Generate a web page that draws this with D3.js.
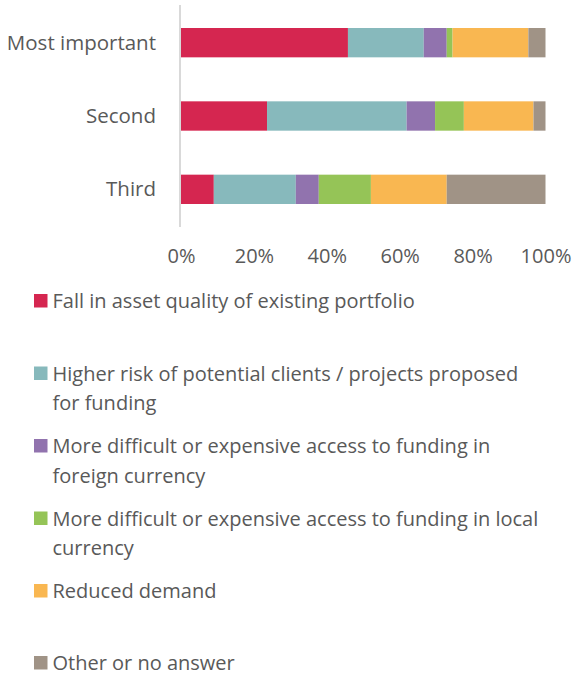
<!DOCTYPE html>
<html><head><meta charset="utf-8">
<script src="https://cdn.jsdelivr.net/npm/d3@7"></script>
<style>body{margin:0;background:#fff}svg{display:block}text{font-family:"Open Sans", Lato, sans-serif;fill:#595959}</style>
</head><body>
<svg id="c" width="576" height="675"></svg>
<script>
const categories = ["Most important", "Second", "Third"];
const seriesNames = [
  "Fall in asset quality of existing portfolio",
  "Higher risk of potential clients / projects proposed for funding",
  "More difficult or expensive access to funding in foreign currency",
  "More difficult or expensive access to funding in local currency",
  "Reduced demand",
  "Other or no answer"
];
// number of words on the first legend line (as wrapped in the original)
const firstLineWords = [7, 8, 8, 9, 2, 4];
const fallAsset = [45.8, 23.6, 9.0];
const higherRisk = [20.8, 38.3, 22.5];
const foreignFunding = [6.3, 7.8, 6.3];
const localFunding = [1.6, 7.9, 14.3];
const reducedDemand = [20.8, 19.1, 20.8];
const otherNoAnswer = [4.7, 3.3, 27.1];
const tickValues = [0, 20, 40, 60, 80, 100];
const colors = ["#D52650", "#87B9BC", "#9173AE", "#95C457", "#F9B751", "#A09386"];

const seriesValues = [fallAsset, higherRisk, foreignFunding, localFunding, reducedDemand, otherNoAnswer];
const rows = categories.map((c, i) => {
  const r = {cat: c};
  seriesNames.forEach((s, j) => r[s] = seriesValues[j][i]);
  return r;
});
const stacked = d3.stack().keys(seriesNames)(rows);

const svg = d3.select("#c");
const x = d3.scaleLinear().domain([0, 100]).range([181, 545.5]);
const y = d3.scaleBand().domain(categories).range([6, 226]).paddingInner(0.6).paddingOuter(0.3);
const color = d3.scaleOrdinal().domain(seriesNames).range(colors);
const FS = 20;

svg.append("g").selectAll("g").data(stacked).join("g")
  .attr("fill", d => color(d.key))
  .selectAll("rect").data(d => d).join("rect")
  .attr("x", d => x(d[0]))
  .attr("width", d => x(d[1]) - x(d[0]))
  .attr("y", d => y(d.data.cat))
  .attr("height", y.bandwidth());

// vertical axis line
svg.append("line").attr("x1", 180).attr("x2", 180).attr("y1", 5).attr("y2", 227)
  .attr("stroke", "#d9d9d9").attr("stroke-width", 2);

// category labels
svg.append("g").selectAll("text").data(categories).join("text")
  .attr("x", 156).attr("y", d => y(d) + y.bandwidth() / 2 + 7)
  .attr("text-anchor", "end").attr("font-size", 20.5).text(d => d);

// x tick labels
const xAxis = svg.append("g").attr("transform", "translate(0,243)")
  .call(d3.axisBottom(x).tickValues(tickValues).tickFormat(d => d + "%").tickSize(0).tickPadding(0));
xAxis.select(".domain").remove();
xAxis.selectAll("text").attr("font-size", FS).attr("font-family", "Open Sans").attr("fill", "#595959").attr("dy", 0).attr("y", 20);

// legend
const legendBase = [308, 380.5, 453, 525.5, 598, 670];
const lg = svg.append("g");
seriesNames.forEach((name, i) => {
  const g = lg.append("g");
  g.append("rect").attr("x", 34).attr("y", legendBase[i] - 14).attr("width", 13.5).attr("height", 13.5).attr("fill", colors[i]);
  const t = g.append("text").attr("x", 52.5).attr("y", legendBase[i]).attr("font-size", FS);
  const words = name.split(" ");
  const lines = [words.slice(0, firstLineWords[i]).join(" "), words.slice(firstLineWords[i]).join(" ")].filter(s => s.length);
  t.selectAll("tspan").data(lines).join("tspan")
    .attr("x", 52.5).attr("y", (d, k) => legendBase[i] + k * 29.5).text(d => d);
});
</script>
</body></html>
